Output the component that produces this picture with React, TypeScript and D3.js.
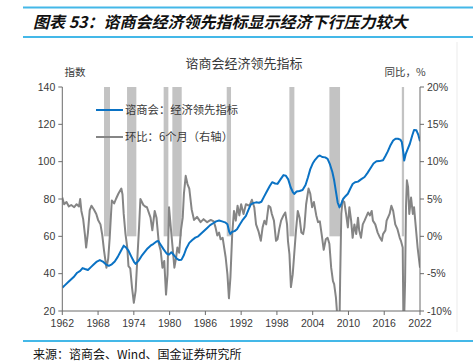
import React from "react";
import * as d3 from "d3";

// ---- data (axis years) ----
const leiYears = [1962.0,1962.5,1963.0,1963.5,1964.0,1964.5,1965.0,1965.4,1965.8,1966.3,1966.8,1967.3,1967.8,1968.3,1968.8,1969.3,1969.8,1970.3,1970.8,1971.3,1971.8,1972.3,1972.7,1973.1,1973.6,1974.0,1974.3,1974.8,1975.3,1975.8,1976.3,1976.8,1977.3,1977.8,1978.1,1978.5,1979.0,1979.5,1979.9,1980.3,1980.7,1981.2,1981.6,1982.0,1982.4,1982.8,1983.3,1983.8,1984.3,1984.8,1985.3,1985.8,1986.3,1986.8,1987.3,1987.8,1988.3,1988.8,1989.3,1989.7,1990.0,1990.2,1990.5,1990.9,1991.3,1991.8,1992.3,1992.8,1993.2,1993.6,1994.0,1994.5,1995.0,1995.4,1995.8,1996.3,1996.8,1997.2,1997.7,1998.1,1998.6,1999.1,1999.5,1999.9,2000.3,2000.7,2000.9,2001.3,2001.8,2002.3,2002.8,2003.2,2003.6,2004.0,2004.4,2004.9,2005.2,2005.6,2006.1,2006.5,2006.9,2007.3,2007.6,2007.9,2008.2,2008.5,2008.8,2009.1,2009.5,2009.9,2010.3,2010.7,2011.1,2011.6,2012.1,2012.7,2013.2,2013.8,2014.2,2014.7,2015.2,2015.8,2016.2,2016.6,2017.0,2017.5,2017.9,2018.3,2018.7,2018.95,2019.2,2019.35,2019.6,2019.9,2020.3,2020.7,2021.0,2021.4,2021.7,2022.0];
const leiValues = [32.5,34,35.5,37,38.5,40.5,41.5,43,42.5,42,43.5,45,46.5,47.3,46.5,45,44.2,45,46.5,49,52,55,54,52.3,49,46.5,45.2,47,49.5,51.5,53.5,55,56,57.2,57.5,55.5,53,50.8,50.2,51.5,50,48,47.3,47.5,50,53.5,56.5,58,59.3,60,61.5,63,64.5,66,67,68,68.5,68,67.5,66.5,62.5,61.3,62.5,62.8,63.8,66.5,69,71,74,77,77.8,78.2,78,78.5,81,84,87,89,88.3,88.1,90.5,92.8,92.5,90.5,86.3,83.5,82.7,84,84.3,84.8,87.5,91.5,96,99,101,102.8,103.3,102.5,102.3,101.5,98.5,94.5,90,84,78,75.5,77.5,80,81.5,82.8,85.5,88,89,89.3,90.5,91.8,94,97,99,100.2,100.3,100.8,103,105.5,108.5,111.3,112.3,112.3,111.8,110.5,105,100.6,104,106.5,109.6,114,117,116.8,114.5,111];

const chgYears = [1962.0,1962.3,1962.7,1963.1,1963.5,1964.0,1964.4,1964.8,1965.0,1965.2,1965.5,1965.8,1966.0,1966.3,1966.6,1966.9,1967.3,1967.7,1968.0,1968.4,1968.7,1969.0,1969.4,1969.7,1969.95,1970.3,1970.7,1971.0,1971.4,1971.9,1972.1,1972.3,1972.6,1972.9,1973.1,1973.4,1973.7,1974.0,1974.3,1974.6,1974.9,1975.1,1975.6,1975.9,1976.2,1976.8,1977.1,1977.5,1977.8,1978.2,1978.5,1978.8,1979.1,1979.4,1979.65,1979.9,1980.2,1980.5,1980.8,1981.1,1981.3,1981.6,1981.9,1982.2,1982.4,1982.7,1983.0,1983.3,1983.7,1984.1,1984.6,1985.2,1985.7,1986.3,1986.9,1987.4,1987.7,1988.0,1988.3,1988.55,1988.9,1989.4,1989.7,1989.95,1990.2,1990.5,1990.8,1991.1,1991.4,1991.7,1992.0,1992.4,1992.8,1993.4,1993.8,1994.2,1994.5,1994.9,1995.3,1995.6,1995.9,1996.2,1996.6,1996.9,1997.15,1997.5,1997.85,1998.1,1998.4,1998.7,1999.1,1999.4,1999.7,1999.85,2000.1,2000.35,2000.65,2000.9,2001.2,2001.5,2001.8,2002.1,2002.4,2002.6,2002.9,2003.3,2003.6,2003.9,2004.2,2004.6,2004.9,2005.2,2005.5,2005.85,2006.2,2006.5,2006.8,2007.1,2007.4,2007.6,2007.9,2008.2,2008.5,2008.6,2008.8,2009.0,2009.3,2009.6,2009.9,2010.15,2010.45,2010.7,2011.0,2011.3,2011.6,2011.8,2012.1,2012.4,2012.7,2013.3,2013.6,2013.9,2014.1,2014.5,2014.9,2015.3,2015.6,2015.8,2016.2,2016.4,2016.9,2017.2,2017.5,2017.85,2018.2,2018.6,2018.8,2019.1,2019.25,2019.5,2019.65,2019.8,2020.0,2020.2,2020.5,2020.8,2021.0,2021.3,2021.6,2022.0];
const chgValues = [5.2,4.3,4.6,4.0,4.2,3.9,4.3,4.0,5.0,3.4,2.3,0.2,-1.5,0.5,3.5,4.1,3.6,3.0,2.2,1.6,0.2,-1.9,-4.2,-3.0,-0.2,4.8,4.4,5.0,5.7,6.4,5.6,3.0,0.3,-1.5,-4.0,-4.3,-6.9,-8.9,-7.3,-2.8,1.6,5.0,4.2,4.0,3.9,2.5,0.8,3.4,2.5,-1.0,-1.9,-4.2,-3.3,-7.8,-5.1,3.9,1.2,-1.5,-4.2,-2.8,-1.5,-2.2,0.8,2.5,5.7,8.1,7.0,6.4,3.6,2.2,2.6,1.9,2.3,1.9,2.2,2.0,1.2,0.1,0.5,-0.4,-0.2,-2.8,-5.1,-8.3,-5.5,0.3,3.4,2.1,4.1,2.8,4.3,3.0,4.3,4.1,4.9,3.9,1.6,0.7,-0.6,1.2,2.1,1.6,4.1,3.9,3.0,2.1,-0.6,-0.4,1.0,2.1,2.8,3.2,1.6,-0.6,-2.4,-6.8,-5.1,-2.4,0.8,3.4,2.5,0.5,0.3,1.2,4.3,6.4,5.7,3.9,4.6,2.8,1.9,2.0,0.3,-1.8,-0.4,-0.2,-1.0,-4.2,-6.0,-6.4,-8.2,-11.5,-11.5,-6.0,3.0,4.8,4.6,3.0,1.2,3.9,2.1,-0.2,1.6,0.3,2.5,0.8,-0.2,1.6,2.1,3.2,2.8,3.4,2.1,1.6,0.5,-0.2,-0.6,0.3,0.8,2.1,3.0,4.1,3.4,1.6,1.0,-0.2,-0.6,-1.5,-14,-6.0,3.9,7.5,6.6,3.0,5.2,3.0,3.9,1.2,-1.5,-4.2];

const recessionStart = [1969.0, 1972.86, 1979.0, 1980.46, 1989.58, 2000.09, 2006.8, 2018.95];
const recessionEnd = [1970.0, 1974.42, 1979.79, 1982.03, 1990.3, 2000.93, 2008.59, 2019.33];

const xTicks = [1962, 1968, 1974, 1980, 1986, 1992, 1998, 2004, 2010, 2016, 2022];
const leftTicks = [20, 40, 60, 80, 100, 120, 140];
const rightTicks = [-10, -5, 0, 5, 10, 15, 20];

const mainTitle = "图表 53：谘商会经济领先指标显示经济下行压力较大";
const chartTitle = "谘商会经济领先指标";
const leftUnit = "指数";
const rightUnit = "同比，%";
const legendLei = "谘商会：经济领先指标";
const legendChg = "环比：6个月（右轴）";
const sourceText = "来源：谘商会、Wind、国金证券研究所";

const BLUE = "#0a72c4";
const GRAY = "#858585";
const SHADE = "#c3c3c3";
const ACCENT = "#44b8e8";
const AXIS = "#6b6b6b";
const TXT = "#3a3a3a";
const NUM_FONT = "'Liberation Sans', Arial, sans-serif";
const CJK_FONT = "'Noto Sans CJK SC', 'Noto Sans', sans-serif";

export default function App() {
  const L = 62.3, R = 420, T = 87, B = 311;
  const x = d3.scaleLinear().domain([1962, 2022]).range([L, R]);
  const yL = d3.scaleLinear().domain([20, 140]).range([B, T]);
  const yR = d3.scaleLinear().domain([-10, 20]).range([B, T]);

  const leiLine = d3.line<number>().x((_, i) => x(leiYears[i])).y((v) => yL(v));
  const chgLine = d3.line<number>().x((_, i) => x(chgYears[i])).y((v) => yR(v));

  return (
    <svg width={473} height={361} style={{ position: "absolute", left: 0, top: 0, background: "#fff" }}>
      <defs>
        <clipPath id="plot">
          <rect x={L} y={T} width={R - L} height={B - T} />
        </clipPath>
      </defs>
      {/* header */}
      <line x1={23} x2={473} y1={7.5} y2={7.5} stroke={ACCENT} strokeWidth={2} />
      <text x={33} y={28} fontFamily={CJK_FONT} fontSize={16} fontWeight="bold" fontStyle="italic" fill="#111">{mainTitle}</text>
      <line x1={23} x2={473} y1={37} y2={37} stroke={ACCENT} strokeWidth={2} />
      <line x1={457} x2={457} y1={42} y2={332} stroke="#ebebeb" strokeWidth={1} />

      <text x={244} y={68} textAnchor="middle" fontFamily={CJK_FONT} fontSize={13} fill={TXT}>{chartTitle}</text>
      <text x={75} y={76} textAnchor="middle" fontFamily={CJK_FONT} fontSize={10.5} fill={TXT}>{leftUnit}</text>
      <text x={405} y={76} textAnchor="middle" fontFamily={CJK_FONT} fontSize={10.5} fill={TXT}>{rightUnit}</text>

      {/* recession shading */}
      {recessionStart.map((s, i) => (
        <rect key={i} x={x(s)} y={T} width={x(recessionEnd[i]) - x(s)} height={yR(0) - T} fill={SHADE} />
      ))}

      <g clipPath="url(#plot)">
        <path d={chgLine(chgValues) || ""} fill="none" stroke={GRAY} strokeWidth={2} strokeLinejoin="round" />
        <path d={leiLine(leiValues) || ""} fill="none" stroke={BLUE} strokeWidth={2} strokeLinejoin="round" />
      </g>

      {/* axes */}
      <line x1={L} x2={L} y1={T} y2={B} stroke={AXIS} />
      <line x1={R} x2={R} y1={T} y2={B} stroke={AXIS} />
      <line x1={L} x2={R} y1={B} y2={B} stroke={AXIS} />
      {leftTicks.map((t) => (
        <g key={"l" + t}>
          <line x1={L - 4} x2={L} y1={yL(t)} y2={yL(t)} stroke={AXIS} />
          <text x={L - 7} y={yL(t) + 3.8} textAnchor="end" fontFamily={NUM_FONT} fontSize={10.5} fill={TXT}>{t}</text>
        </g>
      ))}
      {rightTicks.map((t) => (
        <g key={"r" + t}>
          <line x1={R} x2={R + 4} y1={yR(t)} y2={yR(t)} stroke={AXIS} />
          <text x={R + 7} y={yR(t) + 3.8} textAnchor="start" fontFamily={NUM_FONT} fontSize={10.5} fill={TXT}>{t + "%"}</text>
        </g>
      ))}
      {xTicks.map((t) => (
        <g key={"x" + t}>
          <line x1={x(t)} x2={x(t)} y1={B} y2={B + 4} stroke={AXIS} />
          <text x={x(t)} y={B + 16} textAnchor="middle" fontFamily={NUM_FONT} fontSize={10.5} fill={TXT}>{t}</text>
        </g>
      ))}

      {/* legend */}
      <line x1={96} x2={123} y1={110} y2={110} stroke={BLUE} strokeWidth={2} />
      <text x={125} y={114} fontFamily={CJK_FONT} fontSize={11.3} fill={TXT}>{legendLei}</text>
      <line x1={96} x2={123} y1={137} y2={137} stroke={GRAY} strokeWidth={2} />
      <text x={125} y={141} fontFamily={CJK_FONT} fontSize={11.3} fill={TXT}>{legendChg}</text>

      {/* footer */}
      <line x1={23} x2={473} y1={341} y2={341} stroke={ACCENT} strokeWidth={2} />
      <text x={33} y={359} fontFamily={CJK_FONT} fontSize={12} fill="#111">{sourceText}</text>
    </svg>
  );
}
